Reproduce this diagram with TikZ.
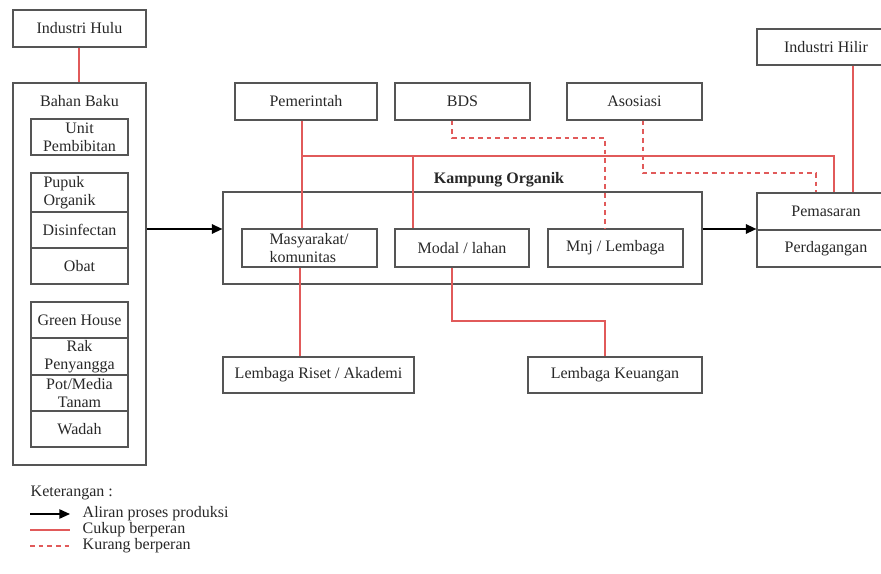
\documentclass[tikz,border=0pt]{standalone}
\usepackage{fontspec}
\setmainfont{Liberation Serif}
\usetikzlibrary{arrows.meta,calc}
\definecolor{boxline}{RGB}{85,85,85}
\definecolor{redline}{RGB}{225,90,90}
\definecolor{txt}{RGB}{40,40,40}
\begin{document}
\begin{tikzpicture}[x=0.75pt,y=-0.75pt,
  font=\fontsize{12}{13.5}\selectfont, text=txt,
  bx/.style 2 args={draw=boxline, line width=0.8pt, inner sep=0pt, align=center,
     minimum width=0.75*#1pt, minimum height=0.75*#2pt},
  rl/.style={draw=redline, line width=0.8pt},
  dl/.style={draw=redline, line width=0.8pt, dash pattern=on 3.5pt off 3pt},
  flow/.style={draw=black, line width=1.5pt, -{Triangle[length=8pt,width=7pt]}}]
\clip (0,0) rectangle (881,574);
\fill[white] (0,0) rectangle (881,574);

% left column
\node[bx={133}{37}] (hulu) at (79.5,28.5) {Industri Hulu};
\node[bx={133}{382}] (bahan) at (79.5,274) {};
\node (bahant) at (79.5,101) {Bahan Baku};
\node[bx={97}{36}] (unit) at (79.5,137) {Unit\\Pembibitan};
\node[bx={97}{39}, align=left, text width=0.75*72pt] (pupuk) at (79.5,192.5) {Pupuk\\Organik};
\node[bx={97}{36}] (disin) at (79.5,230) {Disinfectan};
\node[bx={97}{36}] (obat) at (79.5,266) {Obat};
\node[bx={97}{36}] (green) at (79.5,320) {Green House};
\node[bx={97}{37}] (rak) at (79.5,356.5) {Rak\\Penyangga};
\node[bx={97}{36}] (pot) at (79.5,393) {Pot/Media\\Tanam};
\node[bx={97}{36}] (wadah) at (79.5,429) {Wadah};

% top actors
\node[bx={142}{37}] (pem) at (306,101.5) {Pemerintah};
\node[bx={135}{37}] (bds) at (462.5,101.5) {BDS};
\node[bx={135}{37}] (asos) at (634.5,101.5) {Asosiasi};

% kampung organik
\node[bx={479}{92}] (kamp) at (462.5,238) {};
\node[font=\fontsize{12}{13.5}\selectfont\bfseries] (kampt) at (499,180) {Kampung Organik};
\node[bx={135}{38}, align=left, text width=0.75*80pt] (masy) at (309.5,248) {Masyarakat/\\komunitas};
\node[bx={134}{38}] (modal) at (462,248) {Modal / lahan};
\node[bx={135}{38}] (mnj) at (615.5,248) {Mnj / Lembaga};

% right side
\node[bx={138}{36}] (hilir) at (826,47) {Industri Hilir};
\node[bx={138}{37}] (pemas) at (826,211.5) {Pemasaran};
\node[bx={138}{37}] (perdag) at (826,248.5) {Perdagangan};

% bottom
\node[bx={191}{36}] (riset) at (318.5,375) {Lembaga Riset / Akademi};
\node[bx={174}{36}] (keu) at (615,375) {Lembaga Keuangan};

% helper coordinates
\coordinate (ar) at (0,229);
\coordinate (j1) at (302,156);
\coordinate (j2) at (413,156);
\coordinate (t1) at (834,156);
\coordinate (b1) at (452,138);
\coordinate (b2) at (605,138);
\coordinate (a1) at (643,173);
\coordinate (a2) at (816,173);
\coordinate (h1) at (853,100);
\coordinate (r1) at (300,300);
\coordinate (m1) at (452,321);
\coordinate (m2) at (605,321);
\coordinate (hu) at (79,50);

% red (cukup berperan)
\draw[rl] (hulu.south -| hu) -- (bahan.north -| hu);
\draw[rl] (pem.south -| j1) -- (masy.north -| j1);
\draw[rl] (j1) -- (t1) -- (t1 |- pemas.north);
\draw[rl] (j2) -- (j2 |- modal.north);
\draw[rl] (hilir.south -| h1) -- (h1 |- pemas.north);
\draw[rl] (masy.south -| r1) -- (riset.north -| r1);
\draw[rl] (modal.south -| m1) -- (m1) -- (m2) -- (keu.north -| m2);

% dashed (kurang berperan)
\draw[dl] (bds.south -| b1) -- (b1) -- (b2) -- (b2 |- mnj.north);
\draw[dl] (asos.south -| a1) -- (a1) -- (a2) -- (a2 |- pemas.north);

% flow arrows
\draw[flow] (bahan.east |- ar) -- (kamp.west |- ar);
\draw[flow] (kamp.east |- ar) -- (pemas.west |- ar);

% legend
\node[anchor=west] (ket) at (26,493) {Keterangan :};
\coordinate (l1a) at (30,514);
\coordinate (l1b) at (70,514);
\coordinate (l2a) at (30,530);
\coordinate (l2b) at (70,530);
\coordinate (l3a) at (30,546);
\coordinate (l3b) at (70,546);
\draw[flow, line width=1.2pt] (l1a) -- (l1b);
\draw[rl] (l2a) -- (l2b);
\draw[dl] (l3a) -- (l3b);
\node[anchor=west] (lt1) at (78,514) {Aliran proses produksi};
\node[anchor=west] (lt2) at (78,530) {Cukup berperan};
\node[anchor=west] (lt3) at (78,546) {Kurang berperan};
\end{tikzpicture}
\end{document}
